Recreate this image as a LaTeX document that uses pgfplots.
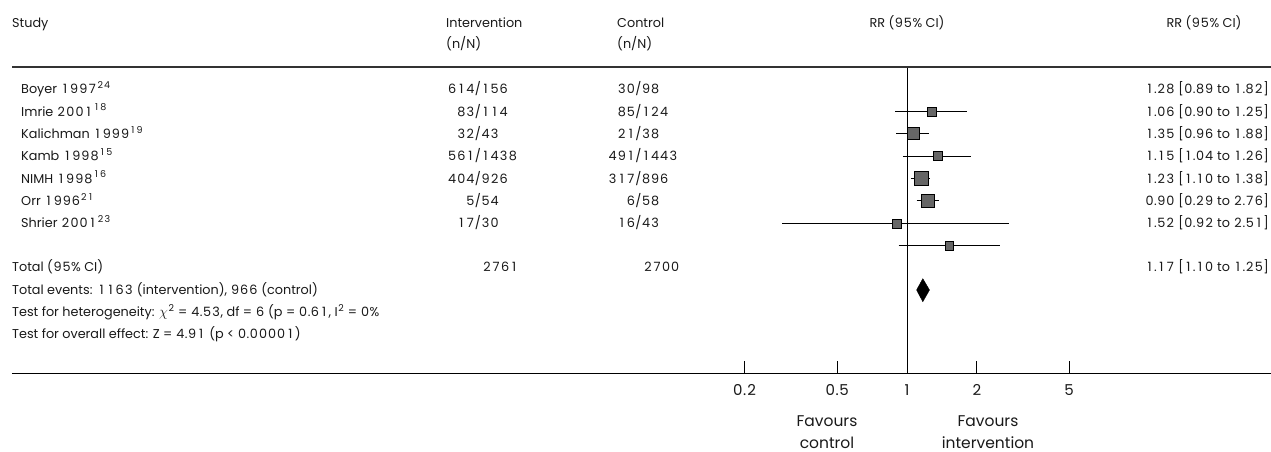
\documentclass[border=0pt]{standalone}
\usepackage{pgfplots}
\pgfplotsset{compat=1.18}
\usepackage{fontspec}
\setmainfont{Poppins}
\definecolor{sqgray}{HTML}{666666}
\newcommand\tf{\fontsize{12.8}{15}\selectfont}
\newcommand\refsup[1]{\raisebox{0.42em}{\fontsize{9.5}{10}\selectfont #1}}
% tabular-width digits (the reference font has equal-width figures)
\newXeTeXintercharclass\digcls
\XeTeXcharclass`0=\digcls \XeTeXcharclass`1=\digcls \XeTeXcharclass`2=\digcls
\XeTeXcharclass`3=\digcls \XeTeXcharclass`4=\digcls \XeTeXcharclass`5=\digcls
\XeTeXcharclass`6=\digcls \XeTeXcharclass`7=\digcls \XeTeXcharclass`8=\digcls
\XeTeXcharclass`9=\digcls
\newcommand\wdig[1]{\hbox to 0.71em{\XeTeXinterchartokenstate=0 \hss#1\hss}}
\XeTeXinterchartoks 0 \digcls = {\wdig}
\XeTeXinterchartoks 4095 \digcls = {\wdig}
\XeTeXinterchartoks \digcls \digcls = {\wdig}
\begin{document}
\XeTeXinterchartokenstate=1
\begin{tikzpicture}
\useasboundingbox (0,0) rectangle (1271pt,452pt);
\begin{axis}[
  at={(12pt,78.3pt)}, anchor=south west,
  scale only axis, width=1259pt, height=373.7pt,
  xmode=log, xmin=1.3874e-4, xmax=37.07,
  ymin=0, ymax=373.7,
  axis x line*=bottom, axis y line=none,
  axis line style={-, line width=0.9pt, black},
  xtick={0.2,0.5,1,2,5}, xticklabels={0.2,0.5,1,2,5},
  minor xtick={}, ytick=\empty,
  xtick align=inside, major tick length=13pt,
  tick style={black, line width=0.7pt},
  xticklabel style={font=\fontsize{15}{17}\selectfont, inner sep=0pt, yshift=-11pt, text=black!90},
  clip=false,
]
% line of no effect
\addplot[black, line width=0.9pt] coordinates {(1,0) (1,306.7)};
% study squares (half side in pt)
\addplot[scatter, only marks, mark=square*,
  scatter/use mapped color={draw=none, fill=sqgray},
  visualization depends on={\thisrow{h} \as \hs},
  scatter/@pre marker code/.append style={/tikz/mark size=\hs pt}]
  table {
x     y      h
1.28  262.0  4.6
1.06  240.4  6.0
1.35  217.7  4.5
1.15  195.4  7.0
1.23  173.0  6.4
0.90  150.4  4.5
1.52  128.0  4.4
};
% confidence intervals
\addplot[black, line width=0.8pt] coordinates {(0.89,262.0) (1.82,262.0)};
\addplot[black, line width=0.8pt] coordinates {(0.90,240.4) (1.25,240.4)};
\addplot[black, line width=0.8pt] coordinates {(0.96,217.7) (1.88,217.7)};
\addplot[black, line width=0.8pt] coordinates {(1.04,195.4) (1.26,195.4)};
\addplot[black, line width=0.8pt] coordinates {(1.10,173.0) (1.38,173.0)};
\addplot[black, line width=0.8pt] coordinates {(0.29,150.4) (2.76,150.4)};
\addplot[black, line width=0.8pt] coordinates {(0.92,128.0) (2.51,128.0)};
% pooled estimate
\addplot[draw=black, fill=black] coordinates {(1.10,83.7) (1.17,95.0) (1.25,83.7) (1.17,72.0)} -- cycle;
\end{axis}
\begin{scope}[yshift=452pt, x=1pt, y=-1pt]
\draw[line width=1.4pt, black!80] (12,67) -- (1271,67);
\tikzset{t/.style={inner sep=0pt, font=\tf, text=black!90}}
% headers
\node[t, anchor=base west] at (12,27.5) {Study};
\node[t, anchor=base west] at (446,27.5) {Intervention};
\node[t, anchor=base west] at (446,48.5) {(n/N)};
\node[t, anchor=base west] at (617,27.5) {Control};
\node[t, anchor=base west] at (617,48.5) {(n/N)};
\node[t, anchor=base] at (907,27.5) {RR (95\% CI)};
\node[t, anchor=base] at (1204,27.5) {RR (95\% CI)};
% study names
\node[t, anchor=base west] at (21,94) {Boyer 1997\refsup{24}};
\node[t, anchor=base west] at (21,116.3) {Imrie 2001\refsup{18}};
\node[t, anchor=base west] at (21,138.6) {Kalichman 1999\refsup{19}};
\node[t, anchor=base west] at (21,160.9) {Kamb 1998\refsup{15}};
\node[t, anchor=base west] at (21,183.2) {NIMH 1998\refsup{16}};
\node[t, anchor=base west] at (21,205.5) {Orr 1996\refsup{21}};
\node[t, anchor=base west] at (21,227.8) {Shrier 2001\refsup{23}};
% intervention n/N (aligned on slash)
\node[t, anchor=base] at (478,94) {\llap{614}/\rlap{156}};
\node[t, anchor=base] at (478,116.3) {\llap{83}/\rlap{114}};
\node[t, anchor=base] at (478,138.6) {\llap{32}/\rlap{43}};
\node[t, anchor=base] at (478,160.9) {\llap{561}/\rlap{1438}};
\node[t, anchor=base] at (478,183.2) {\llap{404}/\rlap{926}};
\node[t, anchor=base] at (478,205.5) {\llap{5}/\rlap{54}};
\node[t, anchor=base] at (478,227.8) {\llap{17}/\rlap{30}};
% control n/N
\node[t, anchor=base] at (638.5,94) {\llap{30}/\rlap{98}};
\node[t, anchor=base] at (638.5,116.3) {\llap{85}/\rlap{124}};
\node[t, anchor=base] at (638.5,138.6) {\llap{21}/\rlap{38}};
\node[t, anchor=base] at (638.5,160.9) {\llap{491}/\rlap{1443}};
\node[t, anchor=base] at (638.5,183.2) {\llap{317}/\rlap{896}};
\node[t, anchor=base] at (638.5,205.5) {\llap{6}/\rlap{58}};
\node[t, anchor=base] at (638.5,227.8) {\llap{16}/\rlap{43}};
% RR column
\node[t, anchor=base east] at (1269,94) {1.28 [0.89 to 1.82]};
\node[t, anchor=base east] at (1269,116.3) {1.06 [0.90 to 1.25]};
\node[t, anchor=base east] at (1269,138.6) {1.35 [0.96 to 1.88]};
\node[t, anchor=base east] at (1269,160.9) {1.15 [1.04 to 1.26]};
\node[t, anchor=base east] at (1269,183.2) {1.23 [1.10 to 1.38]};
\node[t, anchor=base east] at (1269,205.5) {0.90 [0.29 to 2.76]};
\node[t, anchor=base east] at (1269,227.8) {1.52 [0.92 to 2.51]};
% totals
\node[t, anchor=base west] at (12,272) {Total (95\% CI)};
\node[t, anchor=base east] at (519,272) {2761};
\node[t, anchor=base east] at (680,272) {2700};
\node[t, anchor=base east] at (1269,272) {1.17 [1.10 to 1.25]};
\node[t, anchor=base west] at (12,294.4) {Total events: 1163 (intervention), 966 (control)};
\node[t, anchor=base west] at (12,316.7) {Test for heterogeneity: {\fontsize{15}{15}\selectfont$\chi$}\refsup{2} = 4.53, df = 6 (p = 0.61, I\refsup{2} = 0\%};
\node[t, anchor=base west] at (12,339) {Test for overall effect: Z = 4.91 (p < 0.00001)};
% favours
\node[inner sep=0pt, anchor=base, align=center, font=\fontsize{15.5}{22}\selectfont, text=black!90] at (827,449) {Favours\\control};
\node[inner sep=0pt, anchor=base, align=center, font=\fontsize{15.5}{22}\selectfont, text=black!90] at (988,449) {Favours\\intervention};
\end{scope}
\end{tikzpicture}
\end{document}
